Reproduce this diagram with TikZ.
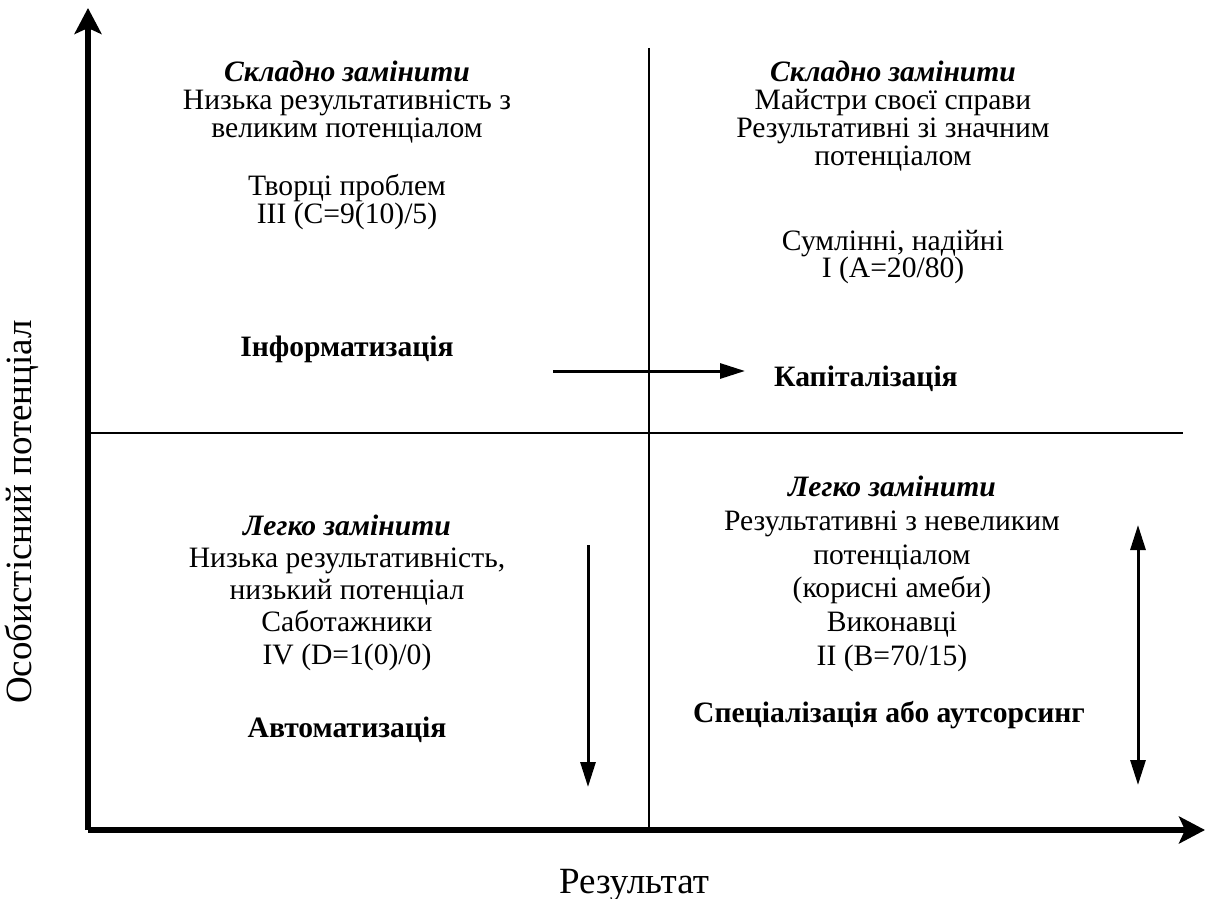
\documentclass[tikz,border=0pt]{standalone}
\usepackage{fontspec}
\setmainfont{Liberation Serif}
\usetikzlibrary{arrows.meta}
\tikzset{
  axisline/.style={line width=2.6pt,-{Stealth[length=13pt,width=13.5pt,inset=3pt]}},
  divline/.style={line width=1pt},
  moveline/.style={line width=1.5pt,-{Triangle[length=12.5pt,width=7.5pt]}},
  bothline/.style={line width=1.5pt,{Triangle[length=12.5pt,width=7.5pt]}-{Triangle[length=12.5pt,width=7.5pt]}},
  body/.style={anchor=base,inner sep=0pt,font=\fontsize{14.8}{16}\selectfont},
  head/.style={body,font=\fontsize{14.8}{16}\selectfont\bfseries\itshape},
  strat/.style={body,font=\fontsize{14.8}{16}\selectfont\bfseries},
  axlabel/.style={anchor=base,inner sep=0pt,font=\fontsize{18.5}{21}\selectfont},
}
\begin{document}
\begin{tikzpicture}[x=0.5pt,y=-0.5pt]
\useasboundingbox (0,0) rectangle (1206,899);
% axes
\coordinate (O) at (88,830);
\coordinate (ytip) at (88,8);
\coordinate (xtip) at (1205,830);
\draw[axisline] (O) -- (ytip);
\draw[axisline] (O) -- (xtip);
% quadrant lines
\coordinate (vtop) at (649,48);
\coordinate (vbot) at (649,830);
\coordinate (hleft) at (88,433);
\coordinate (hright) at (1183,433);
\draw[divline] (vtop) -- (vbot);
\draw[divline] (hleft) -- (hright);
% top left
\node[head] (tl0) at (347,82) {Складно замінити};
\node[body] (tl1) at (347,110) {Низька результативність з};
\node[body] (tl2) at (347,138) {великим потенціалом};
\node[body] (tl3) at (347,196) {Творці проблем};
\node[body] (tl4) at (347,224) {III (C=9(10)/5)};
\node[strat] (tl5) at (347,356) {Інформатизація};
% top right
\node[head] (tr0) at (893,82) {Складно замінити};
\node[body] (tr1) at (893,110) {Майстри своєї справи};
\node[body] (tr2) at (893,138) {Результативні зі значним};
\node[body] (tr3) at (893,166) {потенціалом};
\node[body] (tr4) at (893,250) {Сумлінні, надійні};
\node[body] (tr5) at (893,278) {I (A=20/80)};
\node[strat] (tr6) at (866,386) {Капіталізація};
% bottom left
\node[head] (bl0) at (347,535) {Легко замінити};
\node[body] (bl1) at (347,567) {Низька результативність,};
\node[body] (bl2) at (347,599) {низький потенціал};
\node[body] (bl3) at (347,631) {Саботажники};
\node[body] (bl4) at (347,664) {IV (D=1(0)/0)};
\node[strat] (bl5) at (347,737) {Автоматизація};
% bottom right
\node[head] (br0) at (892,496) {Легко замінити};
\node[body] (br1) at (892,530) {Результативні з невеликим};
\node[body] (br2) at (892,564) {потенціалом};
\node[body] (br3) at (892,597) {(корисні амеби)};
\node[body] (br4) at (892,631) {Виконавці};
\node[body] (br5) at (892,665) {II (B=70/15)};
\node[strat] (br6) at (889,722) {Спеціалізація або аутсорсинг};
% movement arrows
\coordinate (r1) at (553,371);
\coordinate (r2) at (745,371);
\draw[moveline] (r1) -- (r2);
\coordinate (d1) at (588,545);
\coordinate (d2) at (588,787);
\draw[moveline] (d1) -- (d2);
\coordinate (b1) at (1138,525);
\coordinate (b2) at (1138,785);
\draw[bothline] (b1) -- (b2);
% axis labels
\node[axlabel] (xlab) at (634,893) {Результат};
\node[axlabel,rotate=90] (ylab) at (32,512) {Особистісний потенціал};
\end{tikzpicture}
\end{document}
